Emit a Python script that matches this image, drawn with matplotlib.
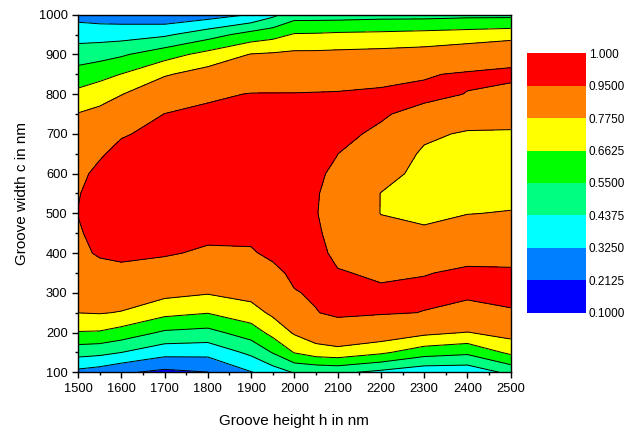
import numpy as np
import matplotlib
matplotlib.use('Agg')
import matplotlib.pyplot as plt
from matplotlib.colors import ListedColormap, BoundaryNorm
from matplotlib.ticker import MultipleLocator

plt.rcParams['font.family'] = ['Liberation Sans', 'DejaVu Sans']

# grid
groove_height = [1500, 1550, 1600, 1700, 1800, 1900, 1950, 2000, 2050,
                 2100, 2200, 2300, 2400, 2500]
groove_width = [100, 150, 200, 250, 300, 350, 400, 450, 500, 550,
                600, 650, 700, 750, 800, 850, 900, 950, 1000]

# one list per groove height, values going up in groove width
efficiency = [
    [0.295, 0.481, 0.656, 0.776, 0.84, 0.89, 0.92, 0.94, 0.952, 0.945,
     0.93, 0.90, 0.84, 0.78, 0.692, 0.595, 0.494, 0.391, 0.285],
    [0.269, 0.469, 0.652, 0.782, 0.843, 0.903, 0.965, 0.98, 0.985, 0.985,
     0.97, 0.94, 0.866, 0.806, 0.728, 0.626, 0.509, 0.39, 0.27],
    [0.229, 0.438, 0.618, 0.769, 0.842, 0.912, 0.982, 0.99, 0.995, 0.995,
     0.99, 0.975, 0.942, 0.848, 0.771, 0.665, 0.535, 0.391, 0.264],
    [0.186, 0.364, 0.533, 0.695, 0.807, 0.885, 0.964, 0.985, 0.995, 0.998,
     0.998, 0.99, 0.975, 0.952, 0.861, 0.764, 0.616, 0.419, 0.238],
    [0.211, 0.359, 0.516, 0.667, 0.783, 0.854, 0.93, 0.98, 0.99, 0.995,
     0.995, 0.99, 0.98, 0.975, 0.93, 0.822, 0.699, 0.501, 0.271],
    [0.32, 0.462, 0.604, 0.729, 0.813, 0.876, 0.938, 0.975, 0.99, 0.995,
     0.995, 0.99, 0.985, 0.975, 0.955, 0.868, 0.78, 0.593, 0.33],
    [0.38, 0.556, 0.697, 0.797, 0.858, 0.918, 0.975, 0.985, 0.99, 0.99,
     0.99, 0.985, 0.98, 0.97, 0.955, 0.875, 0.789, 0.623, 0.41],
    [0.445, 0.668, 0.788, 0.88, 0.943, 0.975, 0.985, 0.99, 0.985, 0.985,
     0.98, 0.975, 0.97, 0.965, 0.955, 0.879, 0.799, 0.671, 0.50],
    [0.45, 0.721, 0.842, 0.945, 0.965, 0.975, 0.97, 0.96, 0.953, 0.955,
     0.962, 0.97, 0.975, 0.97, 0.958, 0.879, 0.799, 0.674, 0.50],
    [0.46, 0.736, 0.869, 0.975, 0.975, 0.955, 0.934, 0.925, 0.92, 0.925,
     0.935, 0.951, 0.97, 0.975, 0.96, 0.887, 0.803, 0.682, 0.50],
    [0.41, 0.682, 0.852, 0.96, 0.96, 0.94, 0.88, 0.82, 0.772, 0.772,
     0.83, 0.87, 0.935, 0.96, 0.97, 0.91, 0.811, 0.688, 0.51],
    [0.36, 0.60, 0.802, 0.948, 0.965, 0.947, 0.87, 0.80, 0.74, 0.72,
     0.73, 0.755, 0.80, 0.92, 0.975, 0.94, 0.822, 0.699, 0.51],
    [0.36, 0.573, 0.771, 0.905, 0.975, 0.96, 0.93, 0.87, 0.77, 0.71,
     0.69, 0.70, 0.76, 0.85, 0.947, 0.965, 0.851, 0.711, 0.52],
    [0.465, 0.686, 0.818, 0.945, 0.965, 0.96, 0.925, 0.86, 0.785, 0.72,
     0.695, 0.70, 0.76, 0.83, 0.91, 0.98, 0.89, 0.727, 0.52],
]

levels = [0.1, 0.2125, 0.325, 0.4375, 0.55, 0.6625, 0.775, 0.95, 1.0]
level_labels = ['0.1000', '0.2125', '0.3250', '0.4375', '0.5500',
                '0.6625', '0.7750', '0.9500', '1.000']
band_colors = ['#0000FF', '#0080FF', '#00FFFF', '#00FF80',
               '#00FF00', '#FFFF00', '#FF8000', '#FF0000']

X, Y = np.meshgrid(groove_height, groove_width)
Z = np.array(efficiency).T

cmap = ListedColormap(band_colors)
norm = BoundaryNorm(levels, cmap.N)

fig = plt.figure(figsize=(6.3, 4.34), dpi=100)
ax = fig.add_axes([0.1238, 0.1422, 0.6868, 0.8239])

cf = ax.contourf(X, Y, Z, levels=levels, cmap=cmap, norm=norm)
ax.contour(X, Y, Z, levels=levels[1:-1], colors='black', linewidths=0.7)

ax.set_xlim(1500, 2500)
ax.set_ylim(100, 1000)
ax.xaxis.set_major_locator(MultipleLocator(100))
ax.xaxis.set_minor_locator(MultipleLocator(50))
ax.yaxis.set_major_locator(MultipleLocator(100))
ax.yaxis.set_minor_locator(MultipleLocator(50))
ax.tick_params(which='major', direction='out', length=4, width=1, labelsize=9.3)
ax.tick_params(which='minor', direction='out', length=2.5, width=1)
for s in ax.spines.values():
    s.set_linewidth(1)

ax.set_xlabel('Groove height h in nm', fontsize=11, labelpad=14)
ax.set_ylabel('Groove width c in nm', fontsize=11, labelpad=7)

cax = fig.add_axes([0.8365, 0.2795, 0.0937, 0.5977])
cb = fig.colorbar(cf, cax=cax, spacing='uniform', ticks=levels)
cb.outline.set_visible(False)
cb.ax.set_yticklabels(level_labels)
cb.ax.tick_params(length=0, labelsize=8.5, pad=2)

fig.savefig('out.png', dpi=100)
